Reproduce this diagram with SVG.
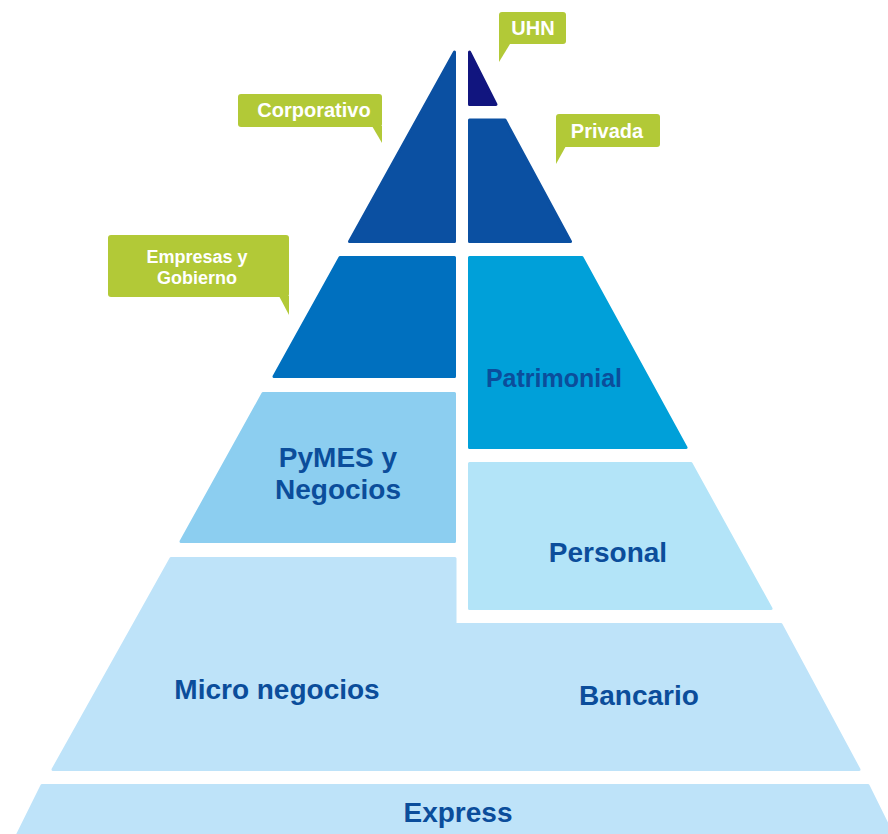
<svg xmlns="http://www.w3.org/2000/svg" width="888" height="834" viewBox="0 0 888 834">
<style>
.seg{stroke-width:3;stroke-linejoin:round}
.c1{fill:#0b50a2;stroke:#0b50a2}
.c0{fill:#11157f;stroke:#11157f}
.c2{fill:#0070bf;stroke:#0070bf}
.c3{fill:#00a0d9;stroke:#00a0d9}
.c4{fill:#8ccef0;stroke:#8ccef0}
.c5{fill:#b3e4f8;stroke:#b3e4f8}
.c6{fill:#bee3f9;stroke:#bee3f9}
.lbl{font-family:"Liberation Sans",Arial,sans-serif;font-weight:bold;fill:#0b4d9b;font-size:28px;text-anchor:middle}
.call{fill:#b2c937}
.ct{font-family:"Liberation Sans",Arial,sans-serif;font-weight:bold;fill:#ffffff;font-size:20px;text-anchor:middle}
</style>
<rect width="888" height="834" fill="#ffffff"/>

<g id="corporativo-seg"><polygon class="seg c1" points="454.5,52 454.5,241.5 349.5,241.5"/></g>
<g id="uhn-seg"><polygon class="seg c0" points="469.5,52 496,104.5 469.5,104.5"/></g>
<g id="privada-seg"><polygon class="seg c1" points="469.5,120 505,120 570.5,241.5 469.5,241.5"/></g>
<g id="empresas-seg"><polygon class="seg c2" points="340,257.5 454.5,257.5 454.5,376.5 274,376.5"/></g>
<g id="patrimonial-seg"><polygon class="seg c3" points="469.5,257.5 582,257.5 686,447.5 469.5,447.5"/>
<text class="lbl" x="554" y="387" style="font-size:25px">Patrimonial</text></g>
<g id="pymes-seg"><polygon class="seg c4" points="263,393.5 454.5,393.5 454.5,541.5 181,541.5"/>
<text class="lbl" x="338" y="467">PyMES y</text><text class="lbl" x="338" y="499">Negocios</text></g>
<g id="personal-seg"><polygon class="seg c5" points="469.5,463.5 691,463.5 771,608.5 469.5,608.5"/>
<text class="lbl" x="608" y="562">Personal</text></g>
<g id="micro-bancario-seg"><polygon class="seg c6" points="171,558.5 455,558.5 455,624.5 781,624.5 859,769.5 53,769.5"/>
<text class="lbl" x="277" y="699">Micro negocios</text><text class="lbl" x="639" y="705">Bancario</text></g>
<g id="express-seg"><polygon class="seg c6" points="42,785.5 868,785.5 900,850 10,850"/>
<text class="lbl" x="458" y="822">Express</text></g>

<g id="callout-uhn"><rect class="call" x="499" y="12" width="67" height="32" rx="3"/><polygon class="call" points="499,40 510,44 499,62"/>
<text class="ct" x="533" y="35">UHN</text></g>
<g id="callout-corporativo"><rect class="call" x="238" y="94" width="144" height="33" rx="3"/><polygon class="call" points="372,126 382,126 382,143"/>
<text class="ct" x="314" y="117">Corporativo</text></g>
<g id="callout-privada"><rect class="call" x="556" y="114" width="104" height="33" rx="3"/><polygon class="call" points="556,140 566,146 556,164"/>
<text class="ct" x="607" y="138">Privada</text></g>
<g id="callout-empresas"><rect class="call" x="108" y="235" width="181" height="62" rx="3"/><polygon class="call" points="279,296 289,296 289,315"/>
<text class="ct" x="197" y="263" style="font-size:18px">Empresas y</text><text class="ct" x="197" y="284" style="font-size:18px">Gobierno</text></g>
</svg>
